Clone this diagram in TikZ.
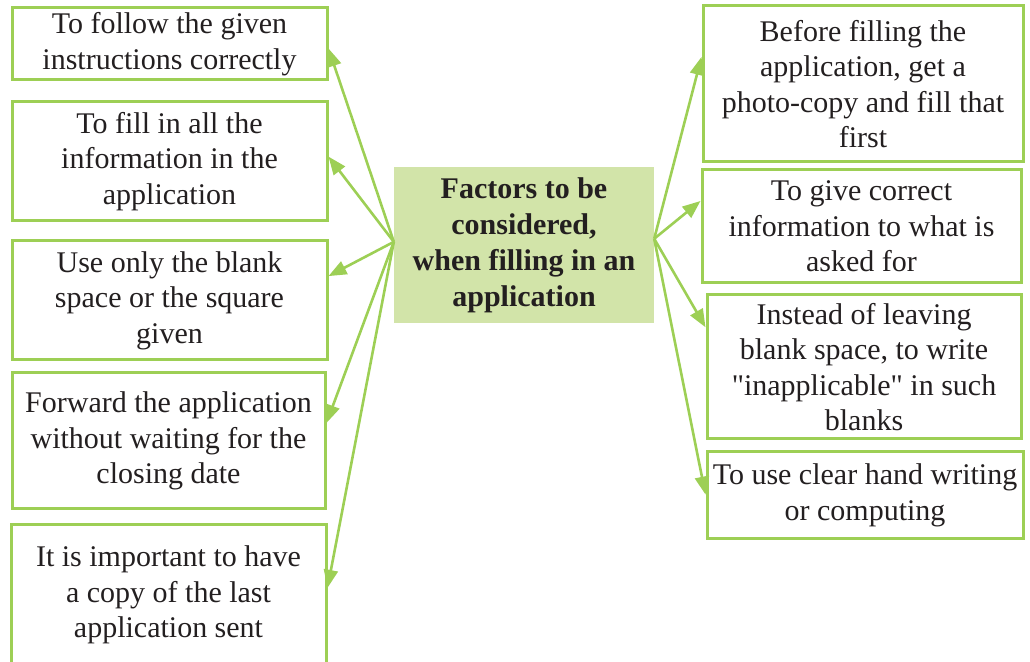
\documentclass[tikz,border=0pt]{standalone}
\usepackage{fontspec}
\setmainfont{Liberation Serif}
\newfontfamily\plainq{Liberation Serif}
\usetikzlibrary{arrows.meta,calc}
\definecolor{gline}{HTML}{9DCF55}
\definecolor{gfill}{HTML}{D2E4A9}
\definecolor{txt}{HTML}{231F20}
\begin{document}
\begin{tikzpicture}[x=1pt,y=1pt,
  box/.style={draw=gline,line width=3pt,align=center,inner sep=0pt,text=txt,
    font=\fontsize{30}{35.5}\selectfont},
  hub/.style={fill=gfill,align=center,inner sep=0pt,text=txt,
    font=\fontsize{30}{36}\selectfont\bfseries},
  arr/.style={draw=gline,line width=2.6pt,-{Triangle[length=18pt,width=14pt]}}]
\useasboundingbox (0,0) rectangle (1030,661);
\node[hub,minimum width=260,minimum height=156] (c) at (524,416) {Factors to be\\considered,\\when filling in an\\application};
% left boxes
\node[box,minimum width=315,minimum height=72] (l1) at (169.5,617) {To follow the given\\instructions correctly};
\node[box,minimum width=315,minimum height=119] (l2) at (169.5,499.5) {To fill in all the\\information in the\\application};
\node[box,minimum width=315,minimum height=119] (l3) at (169.5,360.5) {Use only the blank\\space or the square\\given};
\node[box,minimum width=313,minimum height=136] (l4) at (168.5,220) {Forward the application\\without waiting for the\\closing date};
\node[box,minimum width=315,minimum height=140] (l5) at (168.5,66) {It is important to have\\a copy of the last\\application sent};
% right boxes
\node[box,minimum width=320,minimum height=156] (r1) at (863,577) {Before filling the\\application, get a\\photo-copy and fill that\\first};
\node[box,minimum width=319,minimum height=113] (r2) at (861.5,434.5) {To give correct\\information to what is\\asked for};
\node[box,minimum width=314,minimum height=144] (r3) at (864,294) {Instead of leaving\\blank space, to write\\{\plainq"}inapplicable{\plainq"} in such\\blanks};
\node[box,minimum width=316,minimum height=87] (r4) at (865,165.5) {To use clear hand writing\\or computing};
% arrow origins
\coordinate (cl) at ($(c.north west)!0.48!(c.south west)$);
\coordinate (cr) at ($(c.north east)!0.46!(c.south east)$);
% arrow tips
\coordinate (tl1) at ($(l1.north east)!0.56!(l1.south east)$);
\coordinate (tl2) at ($(l2.north east)!0.46!(l2.south east)$);
\coordinate (tl3) at ($(l3.north east)!0.30!(l3.south east)$);
\coordinate (tl4) at ($(l4.north east)!0.37!(l4.south east)$);
\coordinate (tl5) at ($(l5.north east)!0.45!(l5.south east)$);
\coordinate (tr1) at ($(r1.north west)!0.33!(r1.south west)$);
\coordinate (tr2) at ($(r2.north west)!0.28!(r2.south west)$);
\coordinate (tr3) at ($(r3.north west)!0.23!(r3.south west)$);
\coordinate (tr4) at ($(r4.north west)!0.49!(r4.south west)$);
\foreach \t in {tl1,tl2,tl3,tl4,tl5} \draw[arr] (cl) -- (\t);
\foreach \t in {tr1,tr2,tr3,tr4} \draw[arr] (cr) -- (\t);
\end{tikzpicture}
\end{document}
